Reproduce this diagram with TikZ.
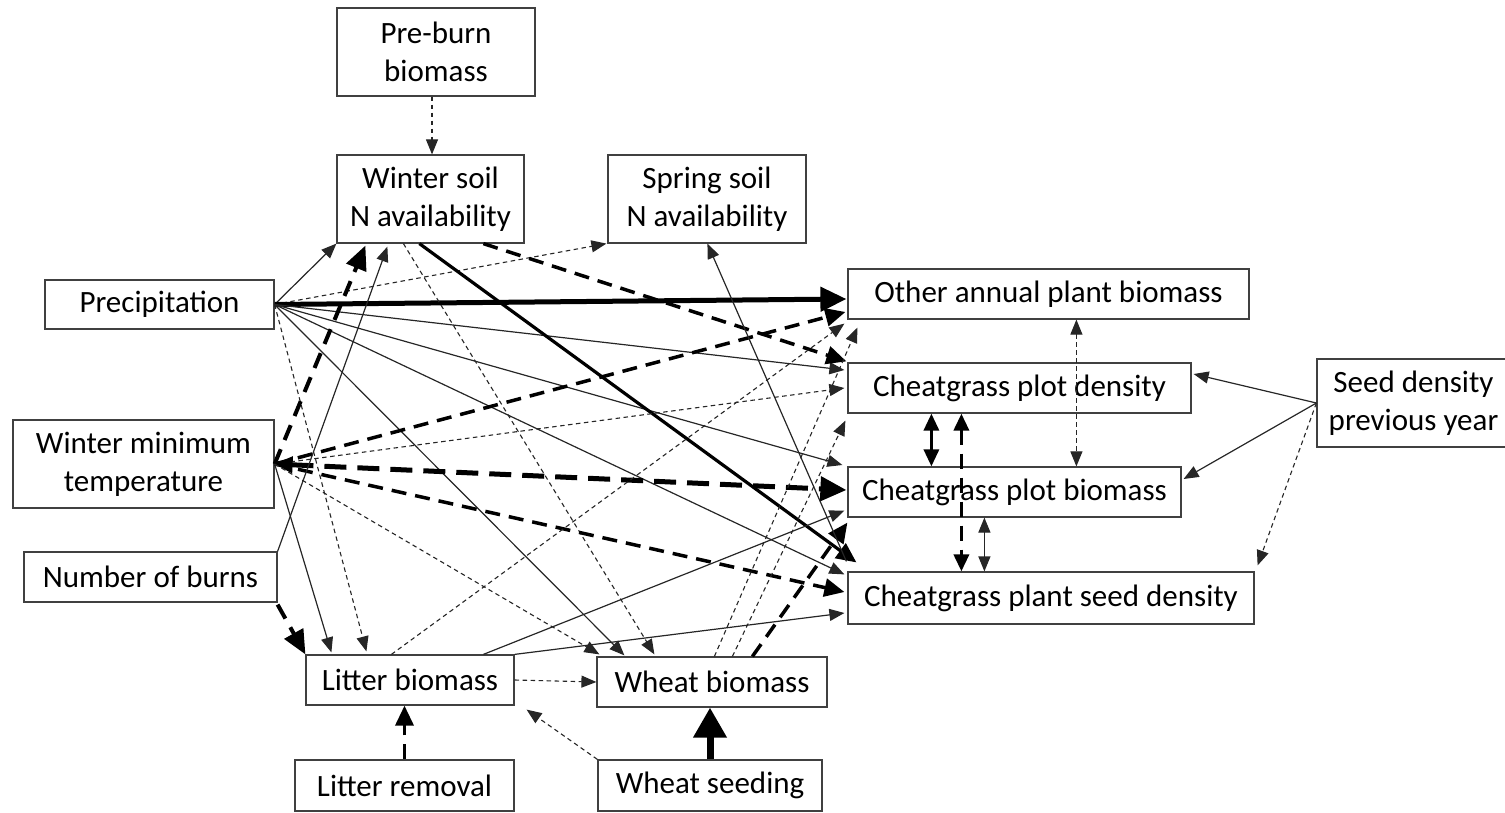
\documentclass[tikz,border=0pt]{standalone}
\usepackage{fontspec}
\setmainfont{Carlito}
\usetikzlibrary{arrows.meta,calc}
\begin{document}
\begin{tikzpicture}[x=1pt,y=-1pt,
  box/.style={draw=black!75, line width=1.2pt, inner sep=0pt, align=center, font=\fontsize{31}{38}\selectfont},
  hd/.style={-{Triangle[length=15pt,width=12pt]}},
  thinS/.style={draw=black!85, line width=1.2pt, hd},
  fineD/.style={draw=black!85, line width=1.1pt, dash pattern=on 4.5pt off 3.5pt, hd},
  thickD/.style={draw=black, line width=3.5pt, dash pattern=on 15pt off 9pt, -{Triangle[length=20pt,width=18pt]}},
  vthickD/.style={draw=black, line width=5pt, dash pattern=on 22pt off 11pt, {Triangle[length=18pt,width=16pt]}-{Triangle[length=26pt,width=24pt]}},
  thickS/.style={draw=black, line width=3.2pt, -{Triangle[length=20pt,width=18pt]}},
  vthickS/.style={draw=black, line width=5pt, -{Triangle[length=26pt,width=24pt]}},
  bigD/.style={draw=black, line width=4pt, dash pattern=on 16pt off 10pt, -{Triangle[length=24pt,width=21pt]}},
]
\useasboundingbox (0,0) rectangle (1505,813);
% boxes
\node[box, minimum width=198pt, minimum height=88pt] (pre) at (436,52) {Pre-burn\\biomass};
\node[box, minimum width=187pt, minimum height=88pt] (ws) at (430.5,199) {Winter soil\\N availability};
\node[box, minimum width=198pt, minimum height=88pt] (ss) at (707,199) {Spring soil\\N availability};
\node[box, minimum width=229pt, minimum height=49pt] (pr) at (159.5,304.5) {Precipitation};
\node[box, minimum width=401pt, minimum height=50pt] (oa) at (1048.5,294) {Other annual plant biomass};
\node[box, minimum width=343pt, minimum height=50pt] (cd) at (1019.5,388) {Cheatgrass plot density};
\node[box, minimum width=193pt, minimum height=88pt] (sd) at (1413.5,403) {Seed density\\previous year};
\node[box, minimum width=261pt, minimum height=88pt] (wt) at (143.5,464) {Winter minimum\\temperature};
\node[box, minimum width=333pt, minimum height=50pt] (cb) at (1014.5,492) {Cheatgrass plot biomass};
\node[box, minimum width=253pt, minimum height=50pt] (nb) at (150.5,577) {Number of burns};
\node[box, minimum width=406pt, minimum height=52pt] (csd) at (1051,598) {Cheatgrass plant seed density};
\node[box, minimum width=208pt, minimum height=50pt] (lb) at (410,680) {Litter biomass};
\node[box, minimum width=230pt, minimum height=50pt] (wb) at (712,682) {Wheat biomass};
\node[box, minimum width=219pt, minimum height=51pt] (lr) at (404.5,785.5) {Litter removal};
\node[box, minimum width=224pt, minimum height=51pt] (wsd) at (710,785.5) {Wheat seeding};

% pre-burn
\draw[fineD] ($(pre.south)+(-4,0)$) -- ($(ws.north)+(1.5,0)$);
% precipitation
\draw[thinS] (pr.east) -- (ws.south west);
\draw[fineD] (pr.east) -- ($(ss.south west)+(-1,0)$);
\draw[vthickS] (pr.east) -- ($(oa.west)+(-1,5)$);
\draw[thinS] (pr.east) -- ($(cd.west)+(-3,-18)$);
\draw[thinS] (pr.east) -- ($(cb.west)+(-5,-27)$);
\draw[thinS] (pr.east) -- ($(csd.north west)+(-3,3)$);
\draw[thinS] (pr.east) -- ($(wb.north west)+(28,-1)$);
\draw[fineD] (pr.east) -- ($(lb.north west)+(61,-3)$);
% winter soil
\draw[fineD] ($(ws.south west)+(67,0)$) -- ($(wb.north west)+(58,-2)$);
\draw[thickS] ($(ws.south west)+(83,0)$) -- ($(csd.north west)+(9,-9)$);
\draw[thickD] ($(ws.south west)+(147,0)$) -- ($(cd.north west)+(-1,-1)$);
% winter minimum temperature
\draw[bigD] (wt.east) -- ($(ws.south west)+(29,2)$);
\draw[thickD] (wt.east) -- ($(oa.west)+(-2,18)$);
\draw[fineD] (wt.east) -- ($(cd.west)+(-3,0)$);
\draw[vthickD] (wt.east) -- ($(cb.west)+(-1,-2)$);
\draw[thickD] (wt.east) -- ($(csd.west)+(-3,-6)$);
\draw[thinS] (wt.east) -- ($(lb.north west)+(26,-2)$);
\draw[fineD] (wt.east) -- ($(wb.north west)+(3,-2)$);
% number of burns
\draw[thinS] (nb.north east) -- ($(ws.south west)+(51,3)$);
\draw[bigD] ($(nb.south east)+(0,2)$) -- (lb.north west);
% litter biomass
\draw[fineD] ($(lb.north west)+(86,0)$) -- ($(oa.south west)+(-3,4)$);
\draw[thinS] ($(lb.north west)+(178,0)$) -- ($(cb.south west)+(-3,-7)$);
\draw[thinS] (lb.north east) -- ($(csd.west)+(-3,15)$);
\draw[fineD] (lb.east) -- (wb.west);
% wheat biomass
\draw[fineD] ($(wb.north west)+(118,0)$) -- ($(oa.south west)+(10,8)$);
\draw[fineD] ($(wb.north west)+(136,0)$) -- ($(cd.south west)+(-2,7)$);
\draw[thickD] ($(wb.north west)+(156,0)$) -- ($(cb.south west)+(0,5)$);
% spring soil
\draw[thinS] ($(csd.north west)+(-1,-10)$) -- ($(ss.south west)+(100,0)$);
% seed density previous year
\draw[thinS] (sd.west) -- ($(cd.east)+(2,-14)$);
\draw[thinS] (sd.west) -- ($(cb.east)+(2,-13)$);
\draw[fineD] (sd.west) -- ($(csd.north east)+(3,-6)$);
% wheat seeding, litter removal
\draw[draw=black, line width=7pt, -{Triangle[length=30pt,width=32pt]}] (wsd.north) -- (wsd.north |- wb.south);
\draw[fineD] (wsd.north west) -- ($(lb.south east)+(12,4)$);
\draw[thickD] (lr.north) -- (lr.north |- lb.south);
% vertical links among cheatgrass boxes
\draw[fineD, {Triangle[length=15pt,width=12pt]}-{Triangle[length=15pt,width=12pt]}] ($(oa.south west)+(229,0)$) -- ($(cb.north west)+(229,0)$);
\draw[thickS, {Triangle[length=17pt,width=15pt]}-{Triangle[length=17pt,width=15pt]}] ($(cd.south west)+(84,0)$) -- ($(cb.north west)+(84,0)$);
\draw[thickD, {Triangle[length=17pt,width=15pt]}-{Triangle[length=17pt,width=15pt]}] ($(cd.south west)+(114,0)$) -- ($(csd.north west)+(114,0)$);
\draw[thinS, {Triangle[length=15pt,width=12pt]}-{Triangle[length=15pt,width=12pt]}] ($(cb.south west)+(137,0)$) -- ($(csd.north west)+(137,0)$);
\end{tikzpicture}
\end{document}
